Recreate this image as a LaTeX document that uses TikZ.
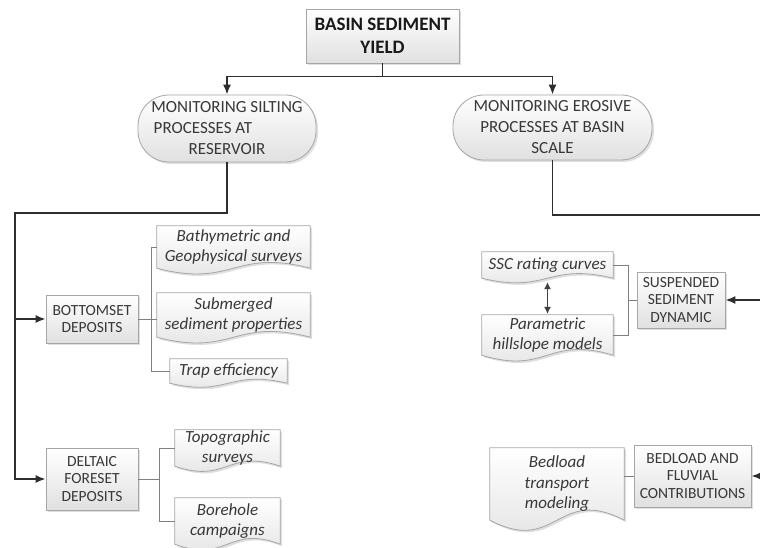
\documentclass[tikz,border=0pt]{standalone}
\usepackage{fontspec}
\setmainfont{Carlito}
\usetikzlibrary{arrows.meta,calc,shadows,backgrounds}
\tikzset{
  shad/.style={drop shadow={shadow xshift=2pt,shadow yshift=-2pt,opacity=0.25,fill=black!50}},
  boxnode/.style={draw=black!35, line width=0.8pt, top color=white, bottom color=black!12, shad, inner sep=0pt, align=center, text=black!78},
  topbox/.style={boxnode, text=black!90, font=\bfseries\fontsize{19}{23}\selectfont},
  stad/.style={boxnode, rounded corners=31pt, font=\fontsize{17}{21}\selectfont},
  sbox/.style={boxnode, font=\fontsize{15.5}{17.5}\selectfont},
  docn/.style={draw=none, inner sep=0pt, align=center, text=black!78, font=\itshape\fontsize{17}{20.5}\selectfont},
  docpath/.style={draw=black!35, line width=0.8pt, top color=white, bottom color=black!12, shad},
  main/.style={draw=black!82, line width=1.6pt},
  sub/.style={draw=black!50, line width=0.8pt},
  arr/.tip={Latex[length=10pt,width=8pt]},
  dbl/.style={draw=black!75, line width=1pt, {Latex[length=7pt,width=7pt]}-{Latex[length=7pt,width=7pt]}}
}
\newcommand\docshape[2]{%
  \begin{pgfonlayer}{background}
  \path[docpath] (#1.south west) -- (#1.north west) -- (#1.north east) -- (#1.south east)
    .. controls ($(#1.south)+(0,-#2)$) and ($(#1.south)+(0,#2)$) .. (#1.south west) -- cycle;
  \end{pgfonlayer}}
\begin{document}
\begin{tikzpicture}[x=1pt,y=-1pt]
\useasboundingbox (0,0) rectangle (760,548);
\begin{pgfonlayer}{background}
\fill[white] (0,0) rectangle (760,548);
\end{pgfonlayer}

% main boxes
\node[topbox, minimum width=153, minimum height=54] (top) at (382.5,36) {BASIN SEDIMENT\\YIELD};
\node[stad, minimum width=178, minimum height=67] (silt) at (227,128.5) {MONITORING SILTING\\PROCESSES AT\rule{48pt}{0pt}\\RESERVOIR};
\node[stad, minimum width=199, minimum height=65] (eros) at (552.5,127.5) {MONITORING EROSIVE\\PROCESSES AT BASIN\\SCALE};

\node[sbox, minimum width=92, minimum height=48] (bot) at (92,319) {BOTTOMSET\\DEPOSITS};
\node[sbox, minimum width=92, minimum height=62] (delt) at (92,479) {DELTAIC\\FORESET\\DEPOSITS};
\node[sbox, minimum width=88, minimum height=56] (susp) at (681,300) {SUSPENDED\\SEDIMENT\\DYNAMIC};
\node[sbox, minimum width=117, minimum height=62] (bedb) at (692.5,476) {BEDLOAD AND\\FLUVIAL\\CONTRIBUTIONS};

% documents
\node[docn, minimum width=153, minimum height=42] (bath) at (233.5,247) {Bathymetric and\\Geophysical surveys}; \docshape{bath}{20}
\node[docn, minimum width=153, minimum height=44] (subm) at (233.5,315) {Submerged\\sediment properties}; \docshape{subm}{20}
\node[docn, minimum width=117, minimum height=24] (trap) at (228.5,371) {Trap efficiency}; \docshape{trap}{14}
\node[docn, minimum width=105, minimum height=36] (topo) at (227.5,448) {Topographic\\surveys}; \docshape{topo}{18}
\node[docn, minimum width=105, minimum height=46] (bore) at (227.5,521) {Borehole\\campaigns}; \docshape{bore}{20}
\node[docn, minimum width=131, minimum height=26] (ssc) at (547.5,265) {SSC rating curves}; \docshape{ssc}{16}
\node[docn, minimum width=131, minimum height=40] (param) at (547.5,335) {Parametric\\hillslope models}; \docshape{param}{20}
\node[docn, minimum width=134, minimum height=72] (bedd) at (557,484) {Bedload\\transport\\modeling}; \docshape{bedd}{35}

% main connectors
\coordinate (jL) at (15,213);
\coordinate (jR) at (775,215);
\draw[main,-arr] (top.south) -- ++(0,13) -| (silt.north);
\draw[main,-arr] (top.south) -- ++(0,13) -| (eros.north);
\draw[main,-arr] (silt.south) |- (jL) |- (delt.west);
\draw[main,-arr] (jL |- bot.west) -- (bot.west);
\draw[main,-arr] (eros.south) |- (jR) |- (bedb.east);
\draw[main,-arr] (jR |- susp.east) -- (susp.east);

% sub connectors
\draw[sub] (bath.west) -- ++(-5,0) |- (trap.west);
\draw[sub] (bot.east) -- (bot.east -| subm.west);
\draw[sub] (topo.west) -- ++(-15,0) |- (bore.west);
\draw[sub] (delt.east) -- ++(22,0);
\draw[sub] (ssc.east) -- ++(15,0) |- (param.east);
\draw[sub] (susp.west) -- ++(-9,0);
\draw[sub] (bedb.west) -- (bedb.west -| bedd.east);
\draw[dbl] ([yshift=-4pt]ssc.south) -- ([yshift=1pt]param.north);
\end{tikzpicture}
\end{document}
